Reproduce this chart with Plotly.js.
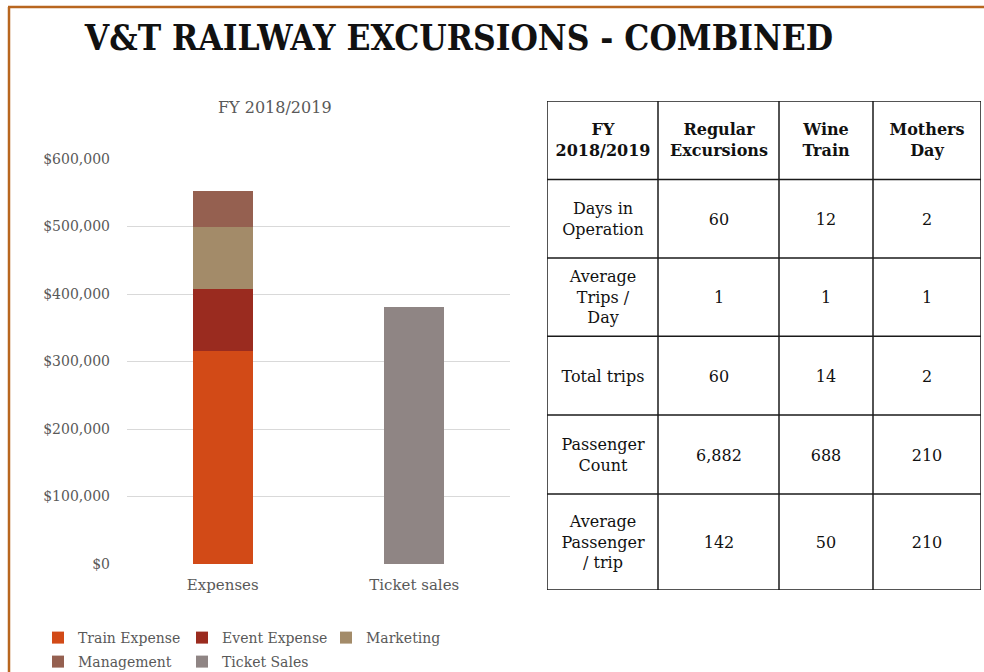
<!DOCTYPE html>
<html>
<head>
<meta charset="utf-8">
<script src="https://cdn.plot.ly/plotly-3.0.1.min.js"></script>
<style>html,body{margin:0;padding:0;background:#fff;}#chart{width:984px;height:672px;}</style>
</head>
<body>
<div id="chart"></div>
<script>
// ---- data ----
const categories = ['Expenses', 'Ticket sales'];
const trainExpense = [315000, null];
const eventExpense = [92000, null];
const marketing = [93000, null];
const management = [52000, null];
const ticketSales = [null, 381000];
const yTickValues = [0, 100000, 200000, 300000, 400000, 500000, 600000];

const tableHeader = ['FY<br>2018/2019', 'Regular<br>Excursions', 'Wine<br>Train', 'Mothers<br>Day'];
const rowLabels = ['Days in<br>Operation', 'Average<br>Trips /<br>Day', 'Total trips', 'Passenger<br>Count', 'Average<br>Passenger<br>/ trip'];
const regularExcursions = [60, 1, 60, 6882, 142];
const wineTrain = [12, 1, 14, 688, 50];
const mothersDay = [2, 1, 2, 210, 210];

// ---- layout geometry (not data) ----
const W = 984, H = 672;
const colEdges = [0, 111, 232, 326, 434];
const rowEdges = [0, 78.6, 157, 235.3, 314.3, 393.3, 489.3];
const font = 'DejaVu Serif';
const grey = '#595959';

const colors = {
  train: '#d24a17',
  event: '#9a2b1f',
  marketing: '#a38b69',
  management: '#956050',
  ticket: '#8f8584'
};

const traces = [
  {type: 'bar', name: 'Train Expense', x: categories, y: trainExpense, marker: {color: colors.train}, legend: 'legend', hoverinfo: 'skip'},
  {type: 'bar', name: 'Event Expense', x: categories, y: eventExpense, marker: {color: colors.event}, legend: 'legend', hoverinfo: 'skip'},
  {type: 'bar', name: 'Marketing', x: categories, y: marketing, marker: {color: colors.marketing}, legend: 'legend', hoverinfo: 'skip'},
  {type: 'bar', name: 'Management', x: categories, y: management, marker: {color: colors.management}, legend: 'legend2', hoverinfo: 'skip'},
  {type: 'bar', name: 'Ticket Sales', x: categories, y: ticketSales, marker: {color: colors.ticket}, legend: 'legend2', hoverinfo: 'skip'}
];

// table as a heatmap of white cells with centered text
const fmt = v => v.toLocaleString('en-US');
const textMatrix = [tableHeader.map(t => '<b>' + t + '</b>')];
const zMatrix = [[0, 0, 0, 0]];
for (let i = 0; i < rowLabels.length; i++) {
  textMatrix.push([rowLabels[i], fmt(regularExcursions[i]), fmt(wineTrain[i]), fmt(mothersDay[i])]);
  zMatrix.push([0, 0, 0, 0]);
}
traces.push({
  type: 'heatmap', x: colEdges, y: rowEdges, z: zMatrix, text: textMatrix,
  texttemplate: '%{text}', textfont: {family: font, size: 16, color: '#111'},
  colorscale: [[0, '#ffffff'], [1, '#ffffff']], showscale: false,
  xaxis: 'x2', yaxis: 'y2', hoverinfo: 'skip', showlegend: false
});

const shapes = [];
colEdges.forEach(x => shapes.push({type: 'line', xref: 'x2', yref: 'y2', x0: x, x1: x, y0: rowEdges[0], y1: rowEdges[rowEdges.length - 1], line: {color: '#1a1a1a', width: 1.5}}));
rowEdges.forEach(y => shapes.push({type: 'line', xref: 'x2', yref: 'y2', y0: y, y1: y, x0: colEdges[0], x1: colEdges[colEdges.length - 1], line: {color: '#1a1a1a', width: 1.5}}));
// slide frame
shapes.push({type: 'line', xref: 'paper', yref: 'paper', x0: 8 / W, x1: 1, y0: 1 - 7 / H, y1: 1 - 7 / H, line: {color: '#b8661f', width: 2.5}});
shapes.push({type: 'line', xref: 'paper', yref: 'paper', x0: 9 / W, x1: 9 / W, y0: 0, y1: 1 - 7 / H, line: {color: '#b8661f', width: 2.5}});

const legendCommon = {
  orientation: 'h', xref: 'container', yref: 'container', xanchor: 'left', yanchor: 'middle',
  entrywidth: 99, entrywidthmode: 'pixels', traceorder: 'normal',
  font: {family: font, size: 14, color: grey}, bgcolor: 'rgba(0,0,0,0)'
};

const layout = {
  width: W, height: H,
  margin: {l: 0, r: 0, t: 0, b: 0, autoexpand: false},
  paper_bgcolor: '#ffffff', plot_bgcolor: '#ffffff',
  showlegend: true,
  title: {
    text: 'V&T RAILWAY EXCURSIONS - COMBINED',
    font: {family: 'DejaVu Serif Condensed, DejaVu Serif, serif', size: 35, weight: 'bold', color: '#111'},
    x: 459 / W, xanchor: 'center', y: 1 - 38 / H, yanchor: 'middle'
  },
  barmode: 'stack',
  bargap: 0.687,
  xaxis: {
    domain: [127 / W, 510 / W], type: 'category',
    tickfont: {family: font, size: 15, color: grey},
    showgrid: false, showline: false, ticks: '', fixedrange: true,
    ticklabelstandoff: 10
  },
  yaxis: {
    domain: [108 / H, 513 / H], range: [0, 600000],
    tickvals: yTickValues, tickformat: '$,.0f',
    tickfont: {family: font, size: 14, color: grey},
    gridcolor: '#d9d9d9', gridwidth: 1, zeroline: false, showline: false,
    ticklabelstandoff: 16, fixedrange: true
  },
  xaxis2: {domain: [547 / W, 981 / W], anchor: 'y2', range: [colEdges[0], colEdges[colEdges.length - 1]], visible: false, fixedrange: true},
  yaxis2: {domain: [(H - 590) / H, (H - 101) / H], anchor: 'x2', range: [rowEdges[rowEdges.length - 1], rowEdges[0]], visible: false, fixedrange: true},
  legend: Object.assign({}, legendCommon, {x: 38 / W, y: 1 - 638 / H}),
  legend2: Object.assign({}, legendCommon, {x: 38 / W, y: 1 - 662 / H}),
  annotations: [{
    text: 'FY 2018/2019', xref: 'paper', yref: 'paper', x: 275 / W, y: 1 - 108 / H,
    xanchor: 'center', yanchor: 'middle', showarrow: false,
    font: {family: font, size: 16, color: grey}
  }],
  shapes: shapes
};

Plotly.newPlot('chart', traces, layout, {displayModeBar: false, staticPlot: true});
</script>
</body>
</html>
